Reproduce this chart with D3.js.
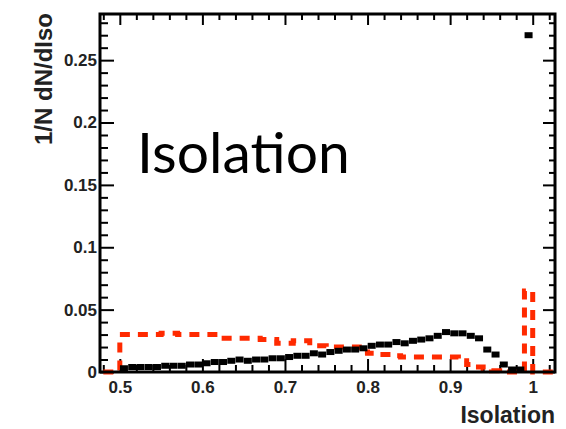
<!DOCTYPE html>
<html>
<head>
<meta charset="utf-8">
<script src="https://cdn.jsdelivr.net/npm/d3@7"></script>
<style>
  body { margin: 0; background: #fff; }
  .tick text { font-family: "Liberation Sans", Arial, sans-serif; font-weight: bold; font-size: 17px; fill: #222; }
</style>
</head>
<body>
<div id="chart"></div>
<script>
// signal (black points), bin centres, width 0.01
var blackX = [0.505, 0.515, 0.525, 0.535, 0.545, 0.555, 0.565, 0.575, 0.585, 0.595,
  0.605, 0.615, 0.625, 0.635, 0.645, 0.655, 0.665, 0.675, 0.685, 0.695,
  0.705, 0.715, 0.725, 0.735, 0.745, 0.755, 0.765, 0.775, 0.785, 0.795,
  0.805, 0.815, 0.825, 0.835, 0.845, 0.855, 0.865, 0.875, 0.885, 0.895,
  0.905, 0.915, 0.925, 0.935, 0.945, 0.955, 0.965, 0.975, 0.985, 0.995];
var blackY = [0.003, 0.004, 0.004, 0.004, 0.004, 0.005, 0.005, 0.005, 0.006, 0.006,
  0.007, 0.008, 0.008, 0.009, 0.010, 0.009, 0.010, 0.010, 0.011, 0.011,
  0.012, 0.013, 0.013, 0.015, 0.014, 0.016, 0.017, 0.018, 0.018, 0.019,
  0.021, 0.022, 0.022, 0.024, 0.023, 0.025, 0.026, 0.027, 0.029, 0.032,
  0.031, 0.031, 0.029, 0.027, 0.018, 0.014, 0.006, 0.002, 0.002, 0.270];

// background (red dashed histogram), lower bin edges, width 0.01
var redLow = [0.48, 0.49, 0.50, 0.51, 0.52, 0.53, 0.54, 0.55, 0.56, 0.57, 0.58, 0.59,
  0.60, 0.61, 0.62, 0.63, 0.64, 0.65, 0.66, 0.67, 0.68, 0.69,
  0.70, 0.71, 0.72, 0.73, 0.74, 0.75, 0.76, 0.77, 0.78, 0.79,
  0.80, 0.81, 0.82, 0.83, 0.84, 0.85, 0.86, 0.87, 0.88, 0.89,
  0.90, 0.91, 0.92, 0.93, 0.94, 0.95, 0.96, 0.97, 0.98, 0.99,
  1.00, 1.01, 1.02];
var redY = [0, 0, 0.030, 0.030, 0.030, 0.030, 0.030, 0.031, 0.031, 0.030, 0.030, 0.030,
  0.030, 0.030, 0.027, 0.027, 0.027, 0.027, 0.027, 0.026, 0.026, 0.023,
  0.023, 0.025, 0.025, 0.021, 0.021, 0.020, 0.020, 0.020, 0.020, 0.016,
  0.015, 0.014, 0.014, 0.013, 0.012, 0.012, 0.012, 0.012, 0.012, 0.012,
  0.012, 0.009, 0.006, 0.004, 0.002, 0.001, 0, 0, 0, 0.065,
  0, 0, 0];

var xMajor = [0.5, 0.6, 0.7, 0.8, 0.9, 1.0];
var yMajor = [0, 0.05, 0.1, 0.15, 0.2, 0.25];

var svgWidth = 566;
var svgHeight = 429;
var plotL = 100, plotR = 555, plotT = 14, plotB = 372;

var svg = d3.select('#chart').append('svg')
  .attr('width', svgWidth)
  .attr('height', svgHeight);

var x = d3.scaleLinear().domain([0.476, 1.027]).range([plotL, plotR]);
var y = d3.scaleLinear().domain([0, 0.287]).range([plotB, plotT]);

var xMinor = d3.range(0.48, 1.03, 0.02).filter(function (v) {
  return !xMajor.some(function (m) { return Math.abs(m - v) < 1e-6; });
});
var yMinor = d3.range(0.01, 0.287, 0.01).filter(function (v) {
  return !yMajor.some(function (m) { return Math.abs(m - v) < 1e-6; });
});

var fmt = function (d) { return d === 0 ? '0' : String(+d.toFixed(2)); };

// major + minor ticks, all pointing inwards
function addAxis(axisFn, scale, pos, values, size, labels) {
  var a = axisFn(scale).tickValues(values).tickSizeInner(-size).tickSizeOuter(0);
  if (labels) a.tickFormat(fmt).tickPadding(labels); else a.tickFormat('');
  var g = svg.append('g').attr('transform', pos).call(a);
  g.select('.domain').remove();
  g.selectAll('.tick line').attr('stroke', '#000').attr('stroke-width', 2);
  return g;
}

addAxis(d3.axisBottom, x, 'translate(0,' + plotB + ')', xMajor, 13, 9);
addAxis(d3.axisBottom, x, 'translate(0,' + plotB + ')', xMinor, 7);
addAxis(d3.axisTop, x, 'translate(0,' + plotT + ')', xMajor, 11);
addAxis(d3.axisTop, x, 'translate(0,' + plotT + ')', xMinor, 6);
addAxis(d3.axisLeft, y, 'translate(' + plotL + ',0)', yMajor, 14, 3);
addAxis(d3.axisLeft, y, 'translate(' + plotL + ',0)', yMinor, 8);
addAxis(d3.axisRight, y, 'translate(' + plotR + ',0)', yMajor, 12);
addAxis(d3.axisRight, y, 'translate(' + plotR + ',0)', yMinor, 6);

// red dashed histogram
var redPts = redLow.map(function (v, i) { return [v, redY[i]]; });
redPts.push([redLow[redLow.length - 1] + 0.01, redY[redY.length - 1]]);
var stepLine = d3.line()
  .x(function (d) { return x(d[0]); })
  .y(function (d) { return y(d[1]); })
  .curve(d3.curveStepAfter);

svg.append('path')
  .datum(redPts)
  .attr('d', stepLine)
  .attr('fill', 'none')
  .attr('stroke', '#ff2a00')
  .attr('stroke-width', 5)
  .attr('stroke-dasharray', '10,8');

// black square markers
svg.append('g').selectAll('rect')
  .data(blackX)
  .enter()
  .append('rect')
  .attr('x', function (d) { return x(d) - 4; })
  .attr('y', function (d, i) { return y(blackY[i]) - 3; })
  .attr('width', 8)
  .attr('height', 6)
  .attr('fill', '#000');

// frame
svg.append('rect')
  .attr('x', plotL).attr('y', plotT)
  .attr('width', plotR - plotL).attr('height', plotB - plotT)
  .attr('fill', 'none')
  .attr('stroke', '#000')
  .attr('stroke-width', 3);

// axis titles
svg.append('text')
  .attr('transform', 'translate(52,13) rotate(-90)')
  .attr('text-anchor', 'end')
  .style('font-family', '"Liberation Sans", Arial, sans-serif')
  .style('font-weight', 'bold')
  .style('font-size', '24px')
  .attr('fill', '#222')
  .text('1/N dN/dIso');

svg.append('text')
  .attr('x', 555)
  .attr('y', 423)
  .attr('text-anchor', 'end')
  .style('font-family', '"Liberation Sans", Arial, sans-serif')
  .style('font-weight', 'bold')
  .style('font-size', '23px')
  .attr('fill', '#222')
  .text('Isolation');

// big in-plot label
svg.append('text')
  .attr('x', 137)
  .attr('y', 173)
  .style('font-family', 'Lato, "Open Sans", sans-serif')
  .style('font-size', '57px')
  .attr('fill', '#000')
  .text('Isolation');
</script>
</body>
</html>
